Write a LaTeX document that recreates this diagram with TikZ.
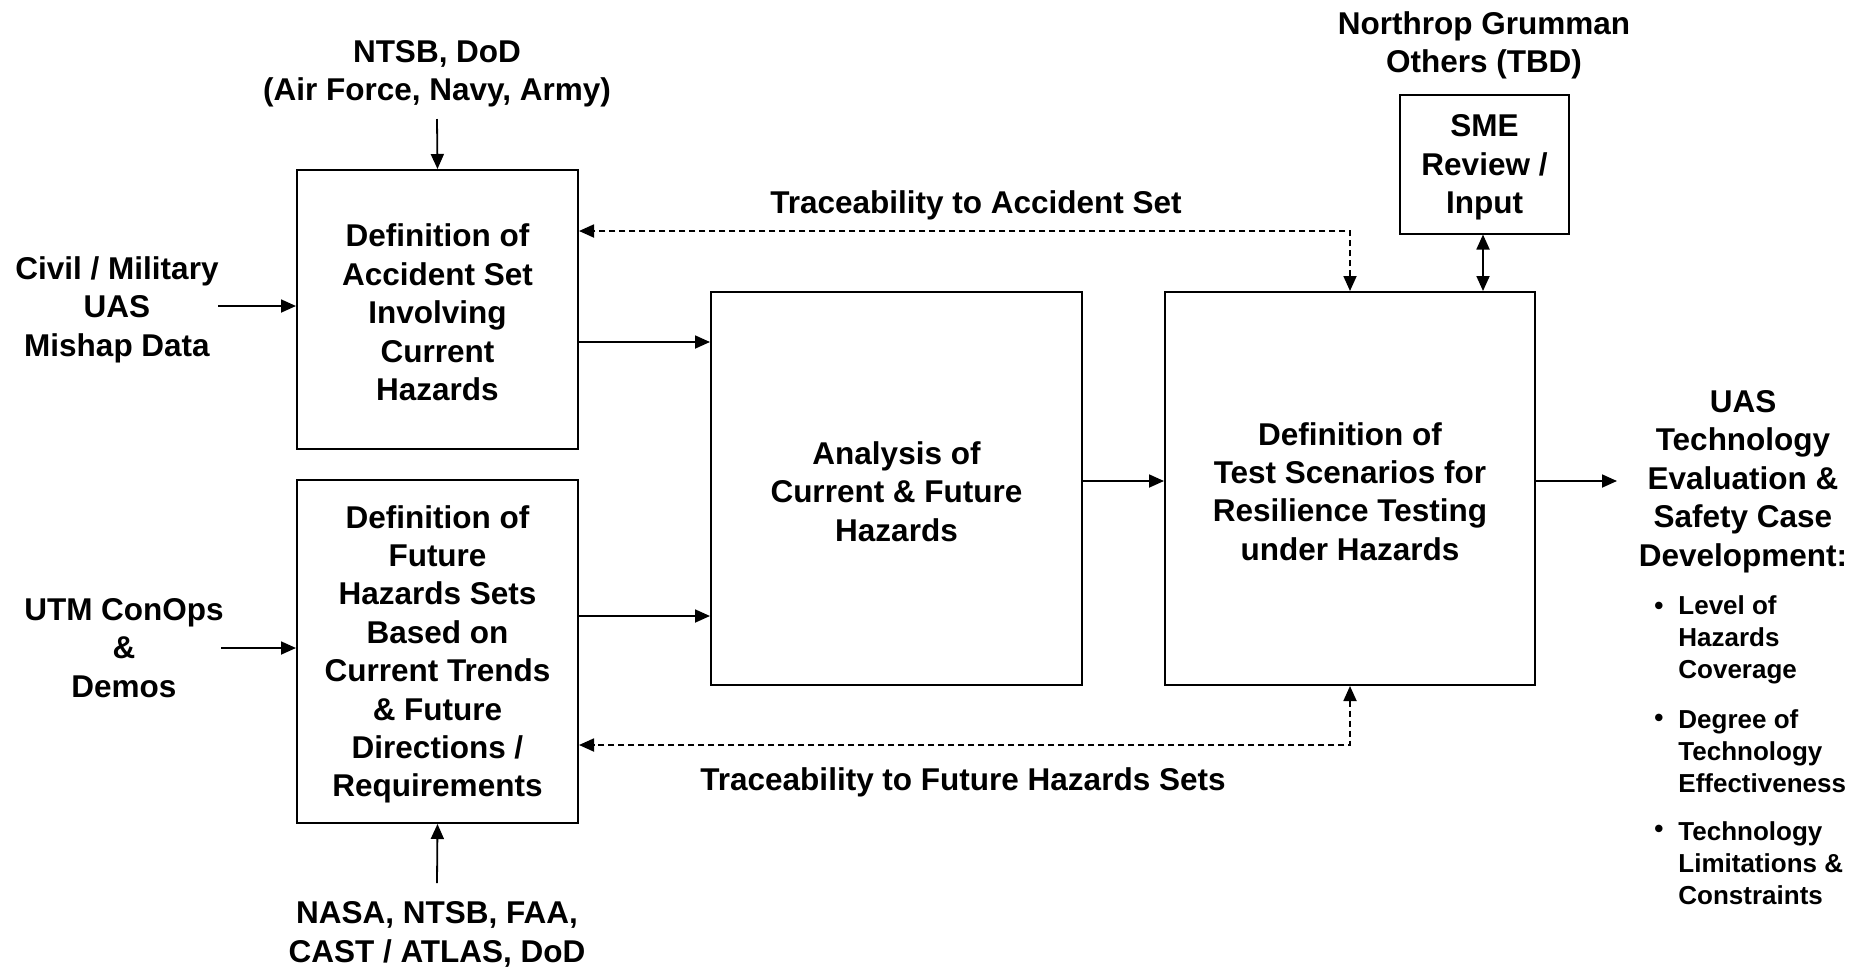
\documentclass[tikz,border=0pt]{standalone}
\usepackage{fontspec}
\setmainfont{Liberation Sans}
\usetikzlibrary{arrows.meta}
\newcommand\topstrut{\rule{0pt}{14.3pt}}
\begin{document}
\begin{tikzpicture}[x=0.5pt,y=-0.5pt,
  txt/.style={font=\fontsize{15.75}{19.2}\selectfont\bfseries, align=center, inner sep=0pt},
  lbl/.style={txt, yshift=-1.75pt},
  blk/.style={txt, draw, line width=1pt},
  small/.style={font=\fontsize{13}{16}\selectfont\bfseries, align=left, inner sep=0pt, yshift=-1.5pt},
  dot/.style={font=\fontsize{13}{16}\selectfont\bfseries, inner sep=0pt, yshift=-1.5pt},
  tip/.tip={Triangle[length=7.5pt,width=6.5pt]},
  arr/.style={line width=0.9pt, -tip},
  darr/.style={line width=0.9pt, dash pattern=on 3pt off 2pt, tip-tip},
  biarr/.style={line width=0.9pt, tip-tip}]
\useasboundingbox (0,0) rectangle (1864,970);
% boxes
\node[blk, minimum width=140.5pt, minimum height=139.5pt] (A) at (437.5,309.5)
  {\topstrut Definition of\\Accident Set\\Involving\\Current\\Hazards};
\node[blk, minimum width=140.5pt, minimum height=171.5pt] (F) at (437.5,651.5)
  {\topstrut Definition of\\Future\\Hazards Sets\\Based on\\Current Trends\\\& Future\\Directions /\\Requirements};
\node[blk, minimum width=185.5pt, minimum height=196.5pt] (An) at (896.5,488.5)
  {\topstrut Analysis of\\Current \& Future\\Hazards};
\node[blk, minimum width=185pt, minimum height=196.5pt] (T) at (1350,488.5)
  {\topstrut Definition of\\Test Scenarios for\\Resilience Testing\\under Hazards};
\node[blk, minimum width=84.5pt, minimum height=69.5pt] (S) at (1484.5,164)
  {\topstrut SME\\Review /\\Input};
% outside labels
\node[lbl] (src1) at (437,70) {NTSB, DoD\\(Air Force, Navy, Army)};
\node[lbl] (civ) at (117,306) {Civil / Military\\UAS\\Mishap Data};
\node[lbl] (utm) at (124,644.5) {UTM ConOps\\\&\\Demos};
\node[lbl] (nasa) at (437,931) {NASA, NTSB, FAA,\\CAST / ATLAS, DoD};
\node[lbl] (ng) at (1484,42) {Northrop Grumman\\Others (TBD)};
\node[lbl] (out) at (1743,478) {UAS\\Technology\\Evaluation \&\\Safety Case\\Development:};
\node[lbl] (tr1) at (976,202) {Traceability to Accident Set};
\node[lbl] (tr2) at (963,779) {Traceability to Future Hazards Sets};
% bullets
\node[small, anchor=west] (b1) at (1678,637) {Level of\\Hazards\\Coverage};
\node[small, anchor=west] (b2) at (1678,748) {Degree of\\Technology\\Effectiveness};
\node[small, anchor=west] (b3) at (1678,860) {Technology\\Limitations \&\\Constraints};
\node[dot] (d1) at (1659,605) {•};
\node[dot] (d2) at (1659,717) {•};
\node[dot] (d3) at (1659,828) {•};
% free ends
\coordinate (p1) at (437,119);
\coordinate (p2) at (218,306);
\coordinate (p3) at (221,648);
\coordinate (p4) at (437,883);
\coordinate (p5) at (1617,481);
% connectors
\draw[arr] (p1) -- (A.north);
\draw[arr] (p2) -- (A.west |- p2);
\draw[arr] (p3) -- (F.west |- p3);
\draw[arr] (p4) -- (F.south);
\draw[arr] (A.east |- 0,342) -- (An.west |- 0,342);
\draw[arr] (F.east |- 0,616) -- (An.west |- 0,616);
\draw[arr] (An.east |- 0,481) -- (T.west |- 0,481);
\draw[arr] (T.east |- p5) -- (p5);
\draw[biarr] (S.south -| 1483,0) -- (T.north -| 1483,0);
\draw[darr] (T.north -| 1350,0) |- (A.east |- 0,231);
\draw[darr] (T.south -| 1350,0) |- (F.east |- 0,745);
\end{tikzpicture}
\end{document}
